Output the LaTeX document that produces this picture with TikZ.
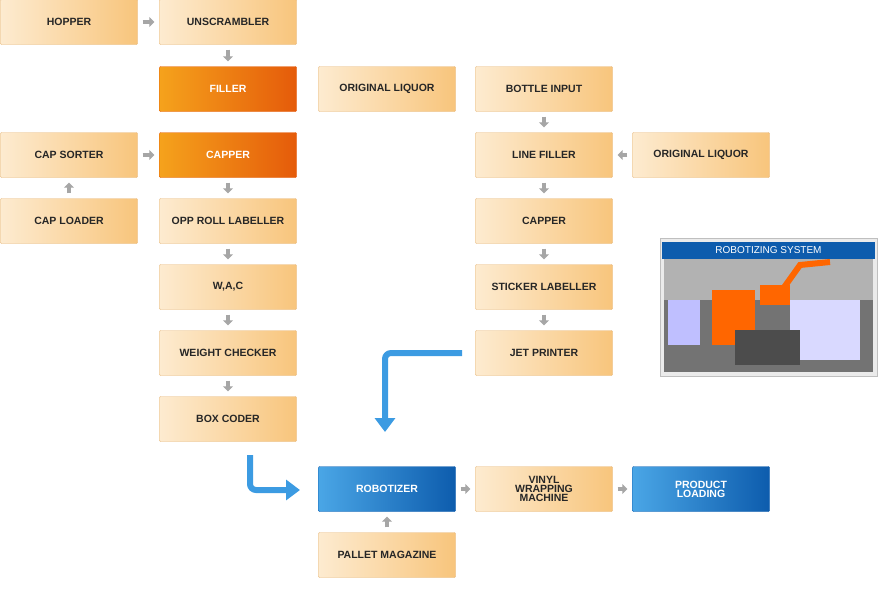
\documentclass[tikz,border=0pt]{standalone}
\usepackage{fontspec}
\setmainfont{Liberation Sans}
\usetikzlibrary{positioning,arrows.meta}
\definecolor{boxlo}{HTML}{F8C57C}
\definecolor{boxhi}{HTML}{FDEBD0}
\definecolor{boxln}{HTML}{E6B77A}
\definecolor{orglo}{HTML}{E55B0A}
\definecolor{orghi}{HTML}{F5A21C}
\definecolor{bluelo}{HTML}{0D5CAD}
\definecolor{bluehi}{HTML}{4AA6E6}
\definecolor{flow}{HTML}{3C9BE2}
\tikzset{
    stage/.style={draw=boxln, rounded corners=1pt, minimum width=137pt, minimum height=45pt,
        left color=boxhi, right color=boxlo, text=black!85, align=center,
        font=\fontsize{10.5}{11}\selectfont\bfseries},
    hot/.style={stage, draw=orglo, left color=orghi, right color=orglo, text=white},
    cool/.style={stage, draw=bluelo, left color=bluehi, right color=bluelo, text=white},
    go/.style={-{Triangle[length=5pt,width=10pt]}, line width=4pt, draw=black!35, shorten <=5pt, shorten >=5pt},
    big/.style={-{Triangle[length=14pt,width=20pt]}, line width=6pt, draw=flow, rounded corners=6pt}
}
\begin{document}
\begin{tikzpicture}[x=1pt,y=-1pt]
\useasboundingbox (0,0) rectangle (880,600);
% left line
\node[stage] (hopper) at (69,22) {HOPPER};
\node[stage] (unscr) at (228,22) {UNSCRAMBLER};
\node[hot] (filler) at (228,89) {FILLER};
\node[stage] (liq1) at (387,89) {ORIGINAL LIQUOR};
\node[hot] (capper) at (228,155) {CAPPER};
\node[stage] (sorter) at (69,155) {CAP SORTER};
\node[stage] (loader) at (69,221) {CAP LOADER};
\node[stage] (opp) at (228,221) {OPP ROLL LABELLER};
\node[stage] (wac) at (228,287) {W,A,C};
\node[stage] (weight) at (228,353) {WEIGHT CHECKER};
\node[stage] (boxc) at (228,419) {BOX CODER};
% right line
\node[stage] (input) at (544,89) {BOTTLE INPUT};
\node[stage] (line) at (544,155) {LINE FILLER};
\node[stage] (liq2) at (701,155) {ORIGINAL LIQUOR};
\node[stage] (capper2) at (544,221) {CAPPER};
\node[stage] (sticker) at (544,287) {STICKER LABELLER};
\node[stage] (jet) at (544,353) {JET PRINTER};
% bottom
\node[cool] (robot) at (387,489) {ROBOTIZER};
\node[stage] (vinyl) at (544,489) {VINYL\\[-2pt]WRAPPING\\[-2pt]MACHINE};
\node[cool] (load) at (701,489) {PRODUCT\\[-2pt]LOADING};
\node[stage] (pallet) at (387,555) {PALLET MAGAZINE};

\draw[go] (hopper) -- (unscr);
\draw[go] (unscr) -- (filler);
\draw[go] (sorter) -- (capper);
\draw[go] (loader) -- (sorter);
\draw[go] (capper) -- (opp);
\draw[go] (opp) -- (wac);
\draw[go] (wac) -- (weight);
\draw[go] (weight) -- (boxc);
\draw[go] (input) -- (line);
\draw[go] (liq2) -- (line);
\draw[go] (line) -- (capper2);
\draw[go] (capper2) -- (sticker);
\draw[go] (sticker) -- (jet);
\draw[go] (robot) -- (vinyl);
\draw[go] (vinyl) -- (load);
\draw[go] (pallet) -- (robot);

\coordinate (jetend) at (462,353);
\coordinate (jetbend) at (385,353);
\coordinate (robotin) at (385,432);
\draw[big] (jetend) -- (jetbend) -- (robotin);
\coordinate (boxout) at (250,455);
\coordinate (boxbend) at (250,490);
\coordinate (robotleft) at (300,490);
\draw[big] (boxout) -- (boxbend) -- (robotleft);

% photo
\node[draw=black!25, fill=black!8, minimum width=217pt, minimum height=138pt, inner sep=0pt] (photo) at (768.5,307) {};
\fill[black!55] (664,259) rectangle (873,372);
\fill[black!30] (664,259) rectangle (873,300);
\fill[blue!25!white] (668,300) rectangle (700,345);
\fill[orange!80!red] (712,290) rectangle (755,345);
\fill[orange!80!red] (760,285) rectangle (790,305);
\draw[orange!80!red, line width=6pt] (775,300) -- (800,265) -- (830,262);
\fill[blue!15!white] (790,300) rectangle (860,360);
\fill[black!70] (735,330) rectangle (800,365);
\node[fill=bluelo, text=white, minimum width=213pt, minimum height=17pt, inner sep=0pt,
    font=\fontsize{10}{11}\selectfont] (phototitle) at (768.5,250) {ROBOTIZING SYSTEM};
\end{tikzpicture}
\end{document}
